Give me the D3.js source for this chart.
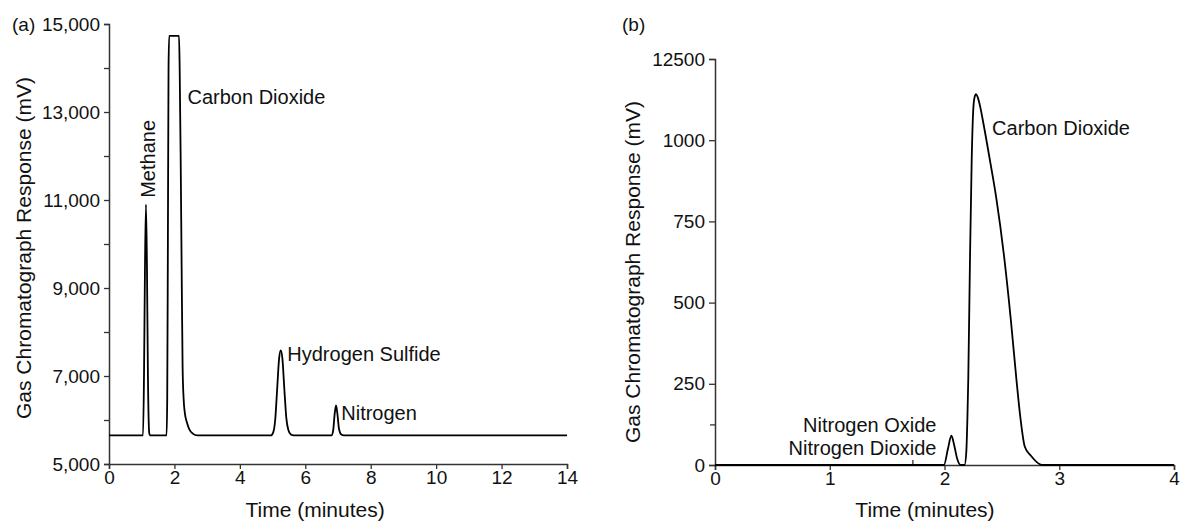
<!DOCTYPE html>
<html>
<head>
<meta charset="utf-8">
<script src="https://cdn.jsdelivr.net/npm/d3@7"></script>
<style>
  html, body { margin: 0; padding: 0; background: #fff; }
  svg text { font-family: "Liberation Sans", Arial, Helvetica, sans-serif; fill: #111; }
</style>
</head>
<body>
<svg id="chart" width="1181" height="522"></svg>
<script>
// ---- Panel (a) data ----
const aTime   = [0, 1.04, 1.07, 1.10, 1.13, 1.16, 1.19, 1.23, 1.25,
                 1.76, 1.78, 1.80, 1.82, 1.84, 2.14, 2.16, 2.19, 2.22, 2.25, 2.28, 2.32, 2.38, 2.46, 2.56, 2.70,
                 4.95, 5.02, 5.08, 5.14, 5.20, 5.25, 5.30, 5.36, 5.42, 5.48, 5.56, 5.65,
                 6.80, 6.85, 6.90, 6.94, 6.98, 7.03, 7.10, 7.18, 14];
const aSignal = [5650, 5650, 7000, 9500, 10900, 9500, 7000, 5700, 5650,
                 5650, 6500, 10000, 14000, 14730, 14730, 14000, 12000, 9500, 7200, 6500, 6150, 5950, 5780, 5690, 5650,
                 5650, 5720, 6000, 6700, 7400, 7580, 7400, 6700, 6050, 5780, 5670, 5650,
                 5650, 5750, 6150, 6330, 6150, 5800, 5670, 5650, 5650];
const aYMajor = [5000, 7000, 9000, 11000, 13000, 15000];
const aYMinor = [6000, 8000, 10000, 12000, 14000];
const aXTicks = [0, 2, 4, 6, 8, 10, 12, 14];
const aLabels = ["Methane", "Carbon Dioxide", "Hydrogen Sulfide", "Nitrogen"];

// ---- Panel (b) data ----
const bTime   = [0, 1.995, 2.03, 2.06, 2.085, 2.11, 2.14, 2.175, 2.19, 2.20, 2.207, 2.222, 2.237, 2.25, 2.262, 2.275,
                 2.29, 2.31, 2.34, 2.40, 2.45, 2.52, 2.58, 2.625, 2.66, 2.70, 2.75, 2.85, 4];
const bSignal = [0, 0, 50, 90, 60, 20, 0, 0, 40, 150, 262, 631, 939, 1090, 1132, 1142,
                 1132, 1105, 1050, 930, 825, 640, 440, 270, 150, 56, 30, 0, 0];
const bYMajor = [0, 250, 500, 750, 1000, 1250];
const bYTickLabels = ["0", "250", "500", "750", "1000", "12500"];
const bYMinor = [125];
const bXTicks = [0, 1, 2, 3, 4];
const bXMinor = [1.72];
const bLabels = ["Carbon Dioxide", "Nitrogen Oxide", "Nitrogen Dioxide"];

const svg = d3.select("#chart");
const AX = "#333";
const TICK = 19, NOTE = 20, TITLE = 21, PANEL = 19;

function styleAxis(g) {
  g.selectAll("path.domain").attr("stroke", AX).attr("stroke-width", 1.5);
  g.selectAll(".tick line").attr("stroke", AX).attr("stroke-width", 1.3);
  g.selectAll(".tick text").attr("font-size", TICK).attr("fill", "#111")
    .style("font-family", '"Liberation Sans", Arial, sans-serif');
}

// ================= Panel (a) =================
const ax = d3.scaleLinear().domain([0, 14]).range([109, 567]);
const ay = d3.scaleLinear().domain([5000, 15000]).range([464, 24]);

const gaY = svg.append("g").attr("transform", `translate(${ax(0)},0)`)
  .call(d3.axisLeft(ay).tickValues(aYMajor).tickFormat(d3.format(",")).tickSizeOuter(0).tickSize(5).tickPadding(4));
styleAxis(gaY);
svg.append("g").attr("transform", `translate(${ax(0)},0)`)
  .call(d3.axisLeft(ay).tickValues(aYMinor).tickFormat("").tickSize(5).tickSizeOuter(0))
  .call(g => { g.select("path.domain").remove(); g.selectAll(".tick line").attr("stroke", AX).attr("stroke-width", 1.3); });

const gaX = svg.append("g").attr("transform", `translate(0,${ay(5000)})`)
  .call(d3.axisBottom(ax).tickValues(aXTicks).tickFormat(d3.format("d")).tickSizeOuter(0).tickSize(5).tickPadding(2));
styleAxis(gaX);

svg.append("path")
  .datum(aTime.map((t, i) => [t, aSignal[i]]))
  .attr("fill", "none").attr("stroke", "#000").attr("stroke-width", 1.8)
  .attr("stroke-linejoin", "round")
  .attr("d", d3.line().x(d => ax(d[0])).y(d => ay(d[1])).curve(d3.curveMonotoneX));

svg.append("text").attr("x", 12).attr("y", 31).attr("font-size", PANEL).text("(a)");
svg.append("text").attr("transform", `translate(31,${(ay(5000) + ay(15000)) / 2 + 4}) rotate(-90)`)
  .attr("text-anchor", "middle").attr("font-size", TITLE).text("Gas Chromatograph Response (mV)");
svg.append("text").attr("x", ax(6.3)).attr("y", 517).attr("text-anchor", "middle")
  .attr("font-size", TITLE).text("Time (minutes)");

// peak labels (a)
svg.append("text").attr("transform", `translate(${ax(1.13) + 9},${ay(11050)}) rotate(-90)`)
  .attr("font-size", NOTE).text(aLabels[0]);
svg.append("text").attr("x", ax(2.4)).attr("y", ay(13350) + 7).attr("font-size", NOTE).text(aLabels[1]);
svg.append("text").attr("x", ax(5.45)).attr("y", ay(7500) + 7).attr("font-size", NOTE).text(aLabels[2]);
svg.append("text").attr("x", ax(7.1)).attr("y", ay(6150) + 7).attr("font-size", NOTE).text(aLabels[3]);

// ================= Panel (b) =================
const bx = d3.scaleLinear().domain([0, 4]).range([715, 1174]);
const by = d3.scaleLinear().domain([0, 1250]).range([465, 59]);

const gbY = svg.append("g").attr("transform", `translate(${bx(0)},0)`)
  .call(d3.axisLeft(by).tickValues(bYMajor).tickFormat((d, i) => bYTickLabels[i]).tickSizeOuter(0).tickSize(6).tickPadding(4));
styleAxis(gbY);
svg.append("g").attr("transform", `translate(${bx(0)},0)`)
  .call(d3.axisLeft(by).tickValues(bYMinor).tickFormat("").tickSize(5).tickSizeOuter(0))
  .call(g => { g.select("path.domain").remove(); g.selectAll(".tick line").attr("stroke", AX).attr("stroke-width", 1.3); });

const gbX = svg.append("g").attr("transform", `translate(0,${by(0)})`)
  .call(d3.axisBottom(bx).tickValues(bXTicks).tickFormat(d3.format("d")).tickSizeOuter(0).tickSize(5).tickPadding(2));
styleAxis(gbX);
svg.append("g").attr("transform", `translate(0,${by(0)})`)
  .call(d3.axisTop(bx).tickValues(bXMinor).tickFormat("").tickSize(5).tickSizeOuter(0))
  .call(g => { g.select("path.domain").remove(); g.selectAll(".tick line").attr("stroke", AX).attr("stroke-width", 1.3); });

svg.append("path")
  .datum(bTime.map((t, i) => [t, bSignal[i]]))
  .attr("fill", "none").attr("stroke", "#000").attr("stroke-width", 1.8)
  .attr("stroke-linejoin", "round")
  .attr("d", d3.line().x(d => bx(d[0])).y(d => by(d[1])).curve(d3.curveMonotoneX));

svg.append("text").attr("x", 622).attr("y", 31).attr("font-size", PANEL).text("(b)");
svg.append("text").attr("transform", `translate(640,${(by(0) + by(1250)) / 2 + 10}) rotate(-90)`)
  .attr("text-anchor", "middle").attr("font-size", TITLE).text("Gas Chromatograph Response (mV)");
svg.append("text").attr("x", bx(1.83)).attr("y", 517).attr("text-anchor", "middle")
  .attr("font-size", TITLE).text("Time (minutes)");

svg.append("text").attr("x", bx(2.415)).attr("y", by(1038) + 7).attr("font-size", NOTE).text(bLabels[0]);
svg.append("text").attr("x", bx(1.93)).attr("y", by(122) + 7).attr("text-anchor", "end").attr("font-size", NOTE).text(bLabels[1]);
svg.append("text").attr("x", bx(1.93)).attr("y", by(51) + 7).attr("text-anchor", "end").attr("font-size", NOTE).text(bLabels[2]);
</script>
</body>
</html>
